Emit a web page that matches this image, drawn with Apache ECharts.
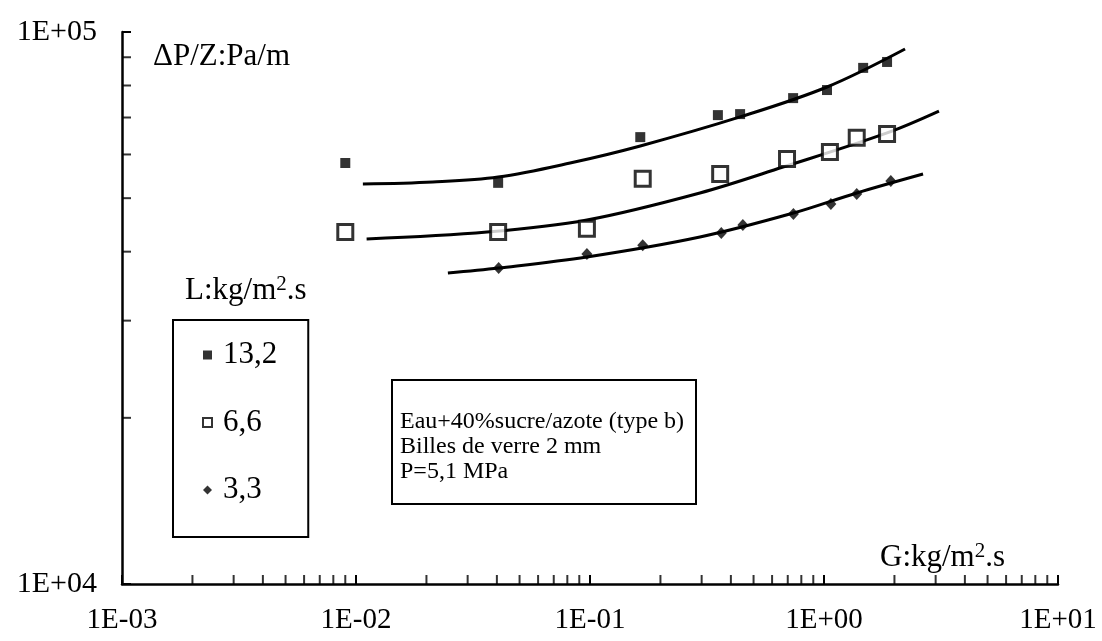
<!DOCTYPE html>
<html>
<head>
<meta charset="utf-8">
<script src="https://cdn.jsdelivr.net/npm/echarts@6/dist/echarts.min.js"></script>
<style>
  html, body { margin: 0; padding: 0; background: #fff; }
  #main { width: 1102px; height: 641px; }
</style>
</head>
<body>
<div id="main"></div>
<script>
const FONT = '"Liberation Serif", "Times New Roman", serif';

// mesures, L = 13,2 kg/m2.s
const g132 = [0.009, 0.0405, 0.164, 0.352, 0.438, 0.738, 1.03, 1.47, 1.86];
const dp132 = [57900, 53300, 64500, 70700, 71000, 75900, 78500, 86100, 88250];
// L = 6,6
const g66 = [0.009, 0.0405, 0.097, 0.168, 0.36, 0.695, 1.06, 1.38, 1.86];
const dp66 = [43400, 43400, 44000, 54200, 55300, 58900, 60600, 64300, 65330];
// L = 3,3
const g33 = [0.0407, 0.097, 0.168, 0.364, 0.45, 0.74, 1.07, 1.38, 1.93];
const dp33 = [37370, 39600, 41100, 43240, 44700, 46800, 48800, 50880, 53700];

// courbes lissées
const fitG132 = [0.0107, 0.0213, 0.0405, 0.0822, 0.164, 0.438, 1.03, 2.22];
const fitDp132 = [53050, 53500, 54620, 57900, 62170, 70170, 79500, 93150];
const fitG66 = [0.0111, 0.0363, 0.097, 0.295, 0.668, 1.86, 3.1];
const fitDp66 = [42170, 43400, 45650, 51100, 56930, 65650, 71900];
const fitG33 = [0.0247, 0.0407, 0.097, 0.295, 0.74, 1.38, 2.65];
const fitDp33 = [36590, 37370, 39120, 42520, 46990, 51100, 55300];

// graduations secondaires (2..9 par décade)
const xDecades = [0.001, 0.01, 0.1, 1];
const yDecades = [10000];
const minorMult = [2, 3, 4, 5, 6, 7, 8, 9];

const pairs = (xs, ys) => xs.map((x, i) => [x, ys[i]]);
const xMinor = [], yMinor = [];
for (let d of xDecades) for (let m of minorMult) xMinor.push([d * m, 10000]);
for (let d of yDecades) for (let m of minorMult) yMinor.push([0.001, d * m]);

const expLabel = v => {
  const e = Math.round(Math.log10(v));
  const s = e < 0 ? '-' : '+';
  const a = Math.abs(e);
  return '1E' + s + (a < 10 ? '0' + a : a);
};

const axisCommon = {
  type: 'log',
  logBase: 10,
  axisLine: { show: true, onZero: false, lineStyle: { color: '#000', width: 2.5 } },
  axisTick: { show: true, inside: true, length: 9, lineStyle: { color: '#000', width: 2 } },
  splitLine: { show: false },
  minorTick: { show: false }
};

const lineStyle = { color: '#000', width: 3 };
const fitLine = (data) => ({
  type: 'line', data: data, smooth: 0.35, showSymbol: false, silent: true,
  lineStyle: lineStyle, z: 2
});
const supRich = { sup: { fontFamily: FONT, fontSize: 21, verticalAlign: 'top', padding: [0, 0, 13, 0] } };

const chart = echarts.init(document.getElementById('main'));
chart.setOption({
  animation: false,
  backgroundColor: '#fff',
  grid: { left: 122, right: 44, top: 32, bottom: 57, containLabel: false },
  xAxis: Object.assign({}, axisCommon, {
    min: 0.001, max: 10,
    axisLabel: { formatter: expLabel, fontFamily: FONT, fontSize: 29, color: '#000', margin: 22 }
  }),
  yAxis: Object.assign({}, axisCommon, {
    min: 10000, max: 100000,
    axisLabel: { formatter: expLabel, fontFamily: FONT, fontSize: 30, color: '#000', margin: 25 }
  }),
  title: {
    text: 'Eau+40%sucre/azote (type b)\nBilles de verre 2 mm\nP=5,1 MPa',
    left: 392, top: 380,
    padding: [29, 12, 20, 8],
    borderColor: '#000', borderWidth: 2,
    textStyle: { fontFamily: FONT, fontSize: 24, lineHeight: 25, fontWeight: 'normal', color: '#000' }
  },
  legend: {
    orient: 'vertical', left: 173, top: 320,
    borderColor: '#000', borderWidth: 2, borderRadius: 0,
    padding: [19.5, 31, 31.5, 29],
    itemWidth: 9, itemHeight: 9, itemGap: 36.5,
    selectedMode: false,
    textStyle: { fontFamily: FONT, fontSize: 31, lineHeight: 31, color: '#000', padding: [0, 0, 0, 6] },
    data: [
      { name: '13,2', icon: 'rect' },
      { name: '6,6', icon: 'rect', itemStyle: { color: '#fff', borderColor: '#000', borderWidth: 2 } },
      { name: '3,3', icon: 'diamond' }
    ]
  },
  graphic: [
    { type: 'text', x: 153, y: 57,
      style: { text: 'ΔP/Z:Pa/m', fontFamily: FONT, fontSize: 31, fill: '#000', verticalAlign: 'middle' } },
    { type: 'text', x: 185, y: 291,
      style: { text: 'L:kg/m{sup|2}.s', fontFamily: FONT, fontSize: 31, fill: '#000', verticalAlign: 'middle', rich: supRich } },
    { type: 'text', x: 880, y: 558,
      style: { text: 'G:kg/m{sup|2}.s', fontFamily: FONT, fontSize: 31, fill: '#000', verticalAlign: 'middle', rich: supRich } }
  ],
  series: [
    fitLine(pairs(fitG132, fitDp132)),
    fitLine(pairs(fitG66, fitDp66)),
    fitLine(pairs(fitG33, fitDp33)),
    { type: 'scatter', data: xMinor, symbol: 'rect', symbolSize: [2, 9], symbolOffset: [0, -4.5],
      itemStyle: { color: '#000' }, silent: true, clip: false, z: 1 },
    { type: 'scatter', data: yMinor, symbol: 'rect', symbolSize: [9, 2], symbolOffset: [4.5, 0],
      itemStyle: { color: '#000' }, silent: true, clip: false, z: 1 },
    { name: '13,2', type: 'scatter', data: pairs(g132, dp132), symbol: 'rect', symbolSize: 10,
      itemStyle: { color: '#000' }, z: 5 },
    { name: '6,6', type: 'scatter', data: pairs(g66, dp66), symbol: 'rect', symbolSize: 15,
      itemStyle: { color: '#fff', borderColor: '#000', borderWidth: 3 }, z: 5 },
    { name: '3,3', type: 'scatter', data: pairs(g33, dp33), symbol: 'diamond', symbolSize: [11, 12],
      itemStyle: { color: '#000' }, z: 5 }
  ]
});
</script>
</body>
</html>
